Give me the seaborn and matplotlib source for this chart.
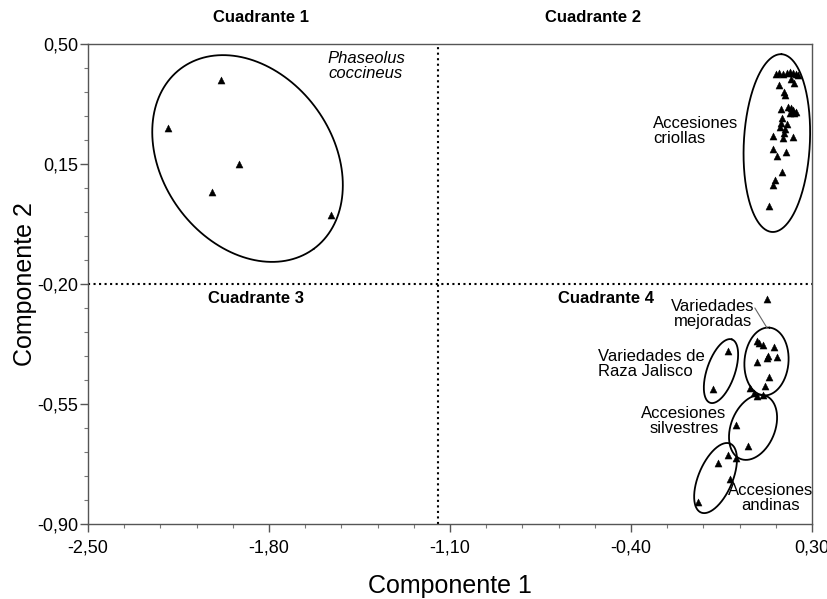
import numpy as np
import pandas as pd
import matplotlib
matplotlib.use("Agg")
import matplotlib.pyplot as plt
import seaborn as sns
from matplotlib.ticker import FixedLocator, AutoMinorLocator

# ---------------- data ----------------
coccineus_x = [-1.986, -2.191, -1.916, -2.020, -1.560]
coccineus_y = [0.395, 0.255, 0.150, 0.068, 0.001]

criollas_x = [0.160, 0.172, 0.188, 0.203, 0.215, 0.226, 0.238, 0.246, 0.218, 0.230,
              0.172, 0.191, 0.195, 0.180, 0.207, 0.218, 0.226, 0.230, 0.238, 0.215,
              0.184, 0.180, 0.176, 0.203, 0.195, 0.149, 0.188, 0.226, 0.191, 0.149,
              0.164, 0.199, 0.184, 0.157, 0.149, 0.133]
criollas_y = [0.413, 0.415, 0.413, 0.415, 0.418, 0.415, 0.413, 0.410, 0.398, 0.386,
              0.380, 0.360, 0.351, 0.310, 0.316, 0.313, 0.308, 0.299, 0.302, 0.299,
              0.284, 0.270, 0.258, 0.267, 0.252, 0.232, 0.226, 0.229, 0.240, 0.194,
              0.173, 0.185, 0.127, 0.103, 0.089, 0.028]

mejoradas_x = [0.126, 0.087, 0.095, 0.110, 0.153, 0.130, 0.126, 0.164, 0.087, 0.133,
               0.118, 0.060, 0.075, 0.087, 0.110]
mejoradas_y = [-0.244, -0.366, -0.372, -0.378, -0.384, -0.410, -0.416, -0.413, -0.427,
               -0.471, -0.497, -0.503, -0.518, -0.527, -0.524]

jalisco_x = [-0.025, -0.083]
jalisco_y = [-0.395, -0.506]

silvestres_x = [0.006, 0.052, 0.006]
silvestres_y = [-0.611, -0.672, -0.707]

andinas_x = [-0.025, -0.064, -0.017, -0.141]
andinas_y = [-0.699, -0.722, -0.769, -0.836]

xticks = [-2.5, -1.8, -1.1, -0.4, 0.3]
xtick_labels = ["-2,50", "-1,80", "-1,10", "-0,40", "0,30"]
yticks = [0.5, 0.15, -0.2, -0.55, -0.9]
ytick_labels = ["0,50", "0,15", "-0,20", "-0,55", "-0,90"]

groups = ["Phaseolus coccineus", "Accesiones criollas", "Variedades mejoradas",
          "Raza Jalisco", "Accesiones silvestres", "Accesiones andinas"]
xs = [coccineus_x, criollas_x, mejoradas_x, jalisco_x, silvestres_x, andinas_x]
ys = [coccineus_y, criollas_y, mejoradas_y, jalisco_y, silvestres_y, andinas_y]

df = pd.concat([pd.DataFrame({"c1": x, "c2": y, "grupo": g}) for g, x, y in zip(groups, xs, ys)],
               ignore_index=True)

# ---------------- style ----------------
sns.set_style("white")
plt.rcParams["font.family"] = ["Liberation Sans", "DejaVu Sans"]
plt.rcParams["text.color"] = "black"
plt.rcParams["axes.labelcolor"] = "black"
plt.rcParams["xtick.color"] = "black"
plt.rcParams["ytick.color"] = "black"

fig = plt.figure(figsize=(8.28, 5.99), dpi=100)
ax = fig.add_axes([88 / 828, 75 / 599, 724 / 828, 480 / 599])
ax.set_xlim(-2.5, 0.3)
ax.set_ylim(-0.9, 0.5)

sns.scatterplot(data=df, x="c1", y="c2", color="black", marker="^", s=26,
                edgecolor="black", linewidth=0.3, ax=ax, legend=False, zorder=3)

# quadrant dividers
ax.axvline(-1.145, color="black", lw=1.5, ls=":", zorder=2)
ax.axhline(-0.2, color="black", lw=1.5, ls=":", zorder=2)

# ellipses: center in data units, semi-axes in pixels, angle (deg)
def draw_ellipse(cx, cy, a, b, ang):
    t = np.linspace(0, 2 * np.pi, 300)
    th = np.deg2rad(ang)
    c = ax.transData.transform((cx, cy))
    px = c[0] + a * np.cos(t) * np.cos(th) - b * np.sin(t) * np.sin(th)
    py = c[1] + a * np.cos(t) * np.sin(th) + b * np.sin(t) * np.cos(th)
    d = ax.transData.inverted().transform(np.column_stack([px, py]))
    ax.plot(d[:, 0], d[:, 1], color="black", lw=1.3, zorder=2)

ellipses = [(-1.883, 0.166, 112, 85, -53.8),
            (0.164, 0.211, 89, 33, 87),
            (0.124, -0.426, 34, 22, 85),
            (-0.052, -0.454, 33.5, 14, 71),
            (0.072, -0.618, 34, 22, 68),
            (-0.073, -0.766, 37.4, 17, 67)]
for e in ellipses:
    draw_ellipse(*e)

# axes, ticks
for s in ax.spines.values():
    s.set_color("#555555")
    s.set_linewidth(1.0)
ax.xaxis.set_major_locator(FixedLocator(xticks))
ax.yaxis.set_major_locator(FixedLocator(yticks))
ax.set_xticklabels(xtick_labels)
ax.set_yticklabels(ytick_labels)
ax.xaxis.set_minor_locator(AutoMinorLocator(5))
ax.yaxis.set_minor_locator(AutoMinorLocator(5))
ax.tick_params(which="major", direction="out", length=6, width=1, color="#555555",
               labelsize=13, labelcolor="black", bottom=True, left=True)
ax.tick_params(which="minor", direction="out", length=3, width=0.8, color="#777777",
               bottom=True, left=True)
ax.tick_params(axis="x", which="major", pad=5)
ax.tick_params(axis="y", which="major", pad=1)

ax.set_xlabel("Componente 1", fontsize=18, labelpad=13, color="black")
ax.set_ylabel("Componente 2", fontsize=18, labelpad=0, color="black")

# quadrant titles
bold = dict(fontsize=12, fontweight="bold", ha="center", va="center", color="black")
ax.text(-1.831, 0.576, "Cuadrante 1", clip_on=False, **bold)
ax.text(-0.547, 0.576, "Cuadrante 2", clip_on=False, **bold)
ax.text(-1.850, -0.241, "Cuadrante 3", **bold)
ax.text(-0.497, -0.241, "Cuadrante 4", **bold)

# group labels
lab = dict(fontsize=12, va="center", linespacing=1.0, color="black")
ax.text(-1.572, 0.436, "Phaseolus\ncoccineus", style="italic", ha="left", **lab)
ax.text(-0.315, 0.246, "Accesiones\ncriollas", ha="left", **lab)
ax.text(-0.083, -0.287, "Variedades\nmejoradas", ha="center", **lab)
ax.text(-0.528, -0.433, "Variedades de\nRaza Jalisco", ha="left", **lab)
ax.text(-0.195, -0.599, "Accesiones\nsilvestres", ha="center", **lab)
ax.text(0.141, -0.824, "Accesiones\nandinas", ha="center", **lab)
ax.plot([0.079, 0.126], [-0.270, -0.328], color="#666666", lw=0.8)

fig.savefig("out.png", dpi=100)
